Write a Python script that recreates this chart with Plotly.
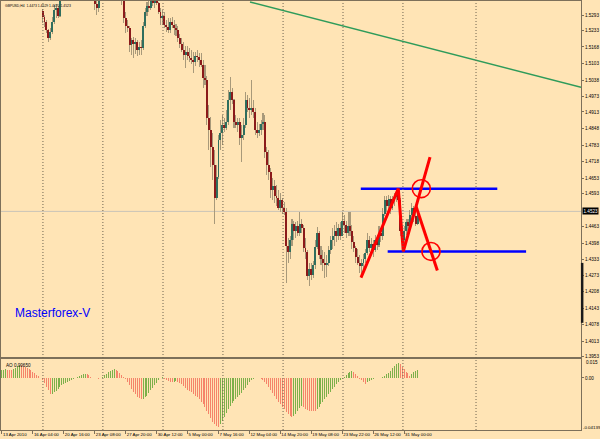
import plotly.graph_objects as go

# ---------------- data (GBPUSD H4) ----------------
opens = [
    1.5400, 1.5415, 1.5432, 1.5428, 1.5410, 1.5405, 1.5400, 1.5440, 1.5470, 1.5500,
    1.5490, 1.5470, 1.5450, 1.5430, 1.5415, 1.5395, 1.5380, 1.5390, 1.5385, 1.5378,
    1.5372, 1.5309, 1.5285, 1.5266, 1.5234, 1.5203, 1.5226, 1.5266, 1.5313, 1.5321,
    1.5289, 1.5350, 1.5385, 1.5395, 1.5410, 1.5400, 1.5392, 1.5402, 1.5425, 1.5438,
    1.5420, 1.5410, 1.5418, 1.5400, 1.5388, 1.5375, 1.5370, 1.5365, 1.5360, 1.5336,
    1.5321, 1.5355, 1.5372, 1.5395, 1.5425, 1.5450, 1.5475, 1.5490, 1.5480, 1.5465,
    1.5450, 1.5430, 1.5405, 1.5360, 1.5281, 1.5250, 1.5242, 1.5175, 1.5195, 1.5179,
    1.5187, 1.5156, 1.5167, 1.5163, 1.5250, 1.5305, 1.5328, 1.5321, 1.5352, 1.5340,
    1.5360, 1.5340, 1.5305, 1.5281, 1.5289, 1.5254, 1.5246, 1.5234, 1.5266, 1.5254,
    1.5242, 1.5234, 1.5203, 1.5179, 1.5156, 1.5136, 1.5148, 1.5132, 1.5124, 1.5116,
    1.5108, 1.5132, 1.5128, 1.5116, 1.5097, 1.5045, 1.5038, 1.4888, 1.4841, 1.4774,
    1.4704, 1.4574, 1.4656, 1.4802, 1.4829, 1.4861, 1.4849, 1.4872, 1.4959, 1.4990,
    1.4959, 1.4872, 1.4861, 1.4872, 1.4810, 1.4821, 1.4861, 1.4959, 1.4928, 1.4920,
    1.4928, 1.4912, 1.4841, 1.4829, 1.4841, 1.4865, 1.4872, 1.4755, 1.4704, 1.4676,
    1.4605, 1.4621, 1.4582, 1.4574, 1.4535, 1.4566, 1.4535, 1.4519, 1.4389, 1.4362,
    1.4409, 1.4472, 1.4448, 1.4464, 1.4440, 1.4472, 1.4456, 1.4378, 1.4362, 1.4271,
    1.4299, 1.4275, 1.4311, 1.4385, 1.4440, 1.4350, 1.4338, 1.4322, 1.4311, 1.4322,
    1.4370, 1.4409, 1.4428, 1.4448, 1.4425, 1.4456, 1.4428, 1.4487, 1.4468, 1.4440,
    1.4464, 1.4448, 1.4401, 1.4378, 1.4346, 1.4322, 1.4307, 1.4322, 1.4338, 1.4358,
    1.4409, 1.4378, 1.4397, 1.4370, 1.4409, 1.4393, 1.4440, 1.4425, 1.4511, 1.4566,
    1.4543, 1.4570, 1.4535, 1.4566, 1.4578, 1.4590, 1.4566, 1.4448, 1.4409, 1.4448,
    1.4480, 1.4464, 1.4507, 1.4535, 1.4503, 1.4473,
]
highs = [
    1.5425, 1.5440, 1.5450, 1.5435, 1.5422, 1.5418, 1.5445, 1.5480, 1.5510, 1.5520,
    1.5500, 1.5478, 1.5460, 1.5445, 1.5430, 1.5410, 1.5400, 1.5405, 1.5398, 1.5392,
    1.5385, 1.5317, 1.5293, 1.5275, 1.5240, 1.5242, 1.5285, 1.5332, 1.5336, 1.5328,
    1.5360, 1.5392, 1.5400, 1.5420, 1.5425, 1.5415, 1.5410, 1.5430, 1.5445, 1.5450,
    1.5432, 1.5425, 1.5430, 1.5412, 1.5398, 1.5385, 1.5380, 1.5378, 1.5380, 1.5352,
    1.5365, 1.5380, 1.5400, 1.5430, 1.5460, 1.5485, 1.5500, 1.5510, 1.5495, 1.5475,
    1.5460, 1.5440, 1.5415, 1.5365, 1.5305, 1.5273, 1.5250, 1.5203, 1.5205, 1.5203,
    1.5195, 1.5187, 1.5195, 1.5266, 1.5321, 1.5344, 1.5350, 1.5365, 1.5375, 1.5370,
    1.5375, 1.5345, 1.5321, 1.5313, 1.5305, 1.5273, 1.5281, 1.5281, 1.5285, 1.5273,
    1.5258, 1.5250, 1.5218, 1.5203, 1.5187, 1.5171, 1.5171, 1.5163, 1.5156, 1.5148,
    1.5148, 1.5156, 1.5144, 1.5144, 1.5116, 1.5097, 1.5053, 1.4939, 1.4892, 1.4829,
    1.4762, 1.4704, 1.4821, 1.4880, 1.4900, 1.4888, 1.4920, 1.4998, 1.5049, 1.5006,
    1.4962, 1.4900, 1.4888, 1.4888, 1.4861, 1.4888, 1.4990, 1.4979, 1.4967, 1.5038,
    1.4959, 1.4928, 1.4872, 1.4865, 1.4880, 1.4908, 1.4900, 1.4774, 1.4762, 1.4692,
    1.4653, 1.4645, 1.4625, 1.4605, 1.4597, 1.4574, 1.4558, 1.4535, 1.4417, 1.4428,
    1.4495, 1.4487, 1.4480, 1.4487, 1.4519, 1.4495, 1.4468, 1.4417, 1.4370, 1.4322,
    1.4322, 1.4330, 1.4409, 1.4460, 1.4448, 1.4389, 1.4370, 1.4362, 1.4350, 1.4389,
    1.4428, 1.4456, 1.4468, 1.4480, 1.4472, 1.4480, 1.4519, 1.4507, 1.4487, 1.4519,
    1.4519, 1.4468, 1.4428, 1.4389, 1.4377, 1.4350, 1.4338, 1.4354, 1.4377, 1.4440,
    1.4425, 1.4417, 1.4409, 1.4432, 1.4425, 1.4464, 1.4456, 1.4535, 1.4582, 1.4582,
    1.4586, 1.4582, 1.4582, 1.4597, 1.4605, 1.4613, 1.4574, 1.4464, 1.4464, 1.4495,
    1.4495, 1.4527, 1.4554, 1.4546, 1.4527, 1.4529,
]
lows = [
    1.5388, 1.5405, 1.5420, 1.5400, 1.5395, 1.5392, 1.5398, 1.5435, 1.5462, 1.5480,
    1.5460, 1.5440, 1.5420, 1.5400, 1.5385, 1.5372, 1.5368, 1.5375, 1.5368, 1.5365,
    1.5360, 1.5262, 1.5246, 1.5222, 1.5187, 1.5195, 1.5218, 1.5258, 1.5281, 1.5281,
    1.5285, 1.5348, 1.5370, 1.5385, 1.5390, 1.5380, 1.5378, 1.5395, 1.5410, 1.5415,
    1.5400, 1.5395, 1.5392, 1.5380, 1.5368, 1.5360, 1.5356, 1.5352, 1.5313, 1.5293,
    1.5305, 1.5348, 1.5365, 1.5388, 1.5418, 1.5440, 1.5460, 1.5470, 1.5455, 1.5440,
    1.5420, 1.5395, 1.5332, 1.5262, 1.5222, 1.5226, 1.5148, 1.5136, 1.5124, 1.5140,
    1.5132, 1.5136, 1.5136, 1.5156, 1.5242, 1.5289, 1.5305, 1.5313, 1.5328, 1.5321,
    1.5332, 1.5297, 1.5254, 1.5254, 1.5242, 1.5226, 1.5222, 1.5222, 1.5242, 1.5214,
    1.5211, 1.5187, 1.5163, 1.5148, 1.5116, 1.5085, 1.5116, 1.5108, 1.5100, 1.5065,
    1.5093, 1.5108, 1.5089, 1.5089, 1.5006, 1.5018, 1.4861, 1.4762, 1.4696, 1.4645,
    1.4472, 1.4566, 1.4650, 1.4762, 1.4782, 1.4833, 1.4841, 1.4861, 1.4920, 1.4943,
    1.4849, 1.4849, 1.4833, 1.4782, 1.4715, 1.4802, 1.4849, 1.4912, 1.4888, 1.4900,
    1.4888, 1.4821, 1.4810, 1.4817, 1.4821, 1.4841, 1.4731, 1.4664, 1.4645, 1.4574,
    1.4566, 1.4554, 1.4546, 1.4527, 1.4519, 1.4511, 1.4507, 1.4244, 1.4322, 1.4338,
    1.4389, 1.4409, 1.4417, 1.4428, 1.4425, 1.4440, 1.4362, 1.4338, 1.4252, 1.4232,
    1.4252, 1.4260, 1.4299, 1.4377, 1.4338, 1.4311, 1.4291, 1.4260, 1.4267, 1.4307,
    1.4354, 1.4377, 1.4389, 1.4401, 1.4409, 1.4409, 1.4425, 1.4440, 1.4417, 1.4425,
    1.4428, 1.4377, 1.4362, 1.4322, 1.4311, 1.4283, 1.4263, 1.4299, 1.4322, 1.4350,
    1.4362, 1.4350, 1.4346, 1.4362, 1.4370, 1.4385, 1.4401, 1.4409, 1.4503, 1.4519,
    1.4527, 1.4511, 1.4527, 1.4546, 1.4558, 1.4550, 1.4425, 1.4370, 1.4393, 1.4432,
    1.4440, 1.4448, 1.4495, 1.4480, 1.4464, 1.4470,
]
closes = [
    1.5415, 1.5432, 1.5428, 1.5410, 1.5405, 1.5400, 1.5440, 1.5470, 1.5500, 1.5490,
    1.5470, 1.5450, 1.5430, 1.5415, 1.5395, 1.5380, 1.5390, 1.5385, 1.5378, 1.5372,
    1.5370, 1.5285, 1.5266, 1.5234, 1.5203, 1.5226, 1.5266, 1.5313, 1.5321, 1.5289,
    1.5350, 1.5385, 1.5395, 1.5410, 1.5400, 1.5392, 1.5402, 1.5425, 1.5438, 1.5420,
    1.5410, 1.5418, 1.5400, 1.5388, 1.5375, 1.5370, 1.5365, 1.5360, 1.5336, 1.5321,
    1.5355, 1.5372, 1.5395, 1.5425, 1.5450, 1.5475, 1.5490, 1.5480, 1.5465, 1.5450,
    1.5430, 1.5405, 1.5360, 1.5281, 1.5250, 1.5242, 1.5175, 1.5195, 1.5179, 1.5187,
    1.5156, 1.5167, 1.5163, 1.5250, 1.5305, 1.5328, 1.5321, 1.5352, 1.5340, 1.5360,
    1.5340, 1.5305, 1.5281, 1.5289, 1.5254, 1.5246, 1.5234, 1.5266, 1.5254, 1.5242,
    1.5234, 1.5203, 1.5179, 1.5156, 1.5136, 1.5148, 1.5132, 1.5124, 1.5116, 1.5108,
    1.5132, 1.5128, 1.5116, 1.5097, 1.5045, 1.5038, 1.4888, 1.4841, 1.4774, 1.4704,
    1.4574, 1.4656, 1.4802, 1.4829, 1.4861, 1.4849, 1.4872, 1.4959, 1.4990, 1.4959,
    1.4872, 1.4861, 1.4872, 1.4810, 1.4821, 1.4861, 1.4959, 1.4928, 1.4920, 1.4928,
    1.4912, 1.4841, 1.4829, 1.4841, 1.4865, 1.4872, 1.4755, 1.4704, 1.4676, 1.4605,
    1.4621, 1.4582, 1.4574, 1.4535, 1.4566, 1.4535, 1.4519, 1.4389, 1.4362, 1.4409,
    1.4472, 1.4448, 1.4464, 1.4440, 1.4472, 1.4456, 1.4378, 1.4362, 1.4271, 1.4299,
    1.4275, 1.4311, 1.4385, 1.4440, 1.4350, 1.4338, 1.4322, 1.4311, 1.4322, 1.4370,
    1.4409, 1.4428, 1.4448, 1.4425, 1.4456, 1.4428, 1.4487, 1.4468, 1.4440, 1.4464,
    1.4448, 1.4401, 1.4378, 1.4346, 1.4322, 1.4307, 1.4322, 1.4338, 1.4358, 1.4409,
    1.4378, 1.4397, 1.4370, 1.4409, 1.4393, 1.4440, 1.4425, 1.4511, 1.4566, 1.4543,
    1.4570, 1.4535, 1.4566, 1.4578, 1.4590, 1.4566, 1.4448, 1.4409, 1.4448, 1.4480,
    1.4464, 1.4507, 1.4535, 1.4503, 1.4473, 1.4523,
]
# Awesome Oscillator values
ao = [
    0.0062, 0.0066, 0.0068, 0.0066, 0.0064, 0.0062, 0.0070, 0.0080, 0.0095, 0.0105,
    0.0102, 0.0098, 0.0090, 0.0080, 0.0070, 0.0060, 0.0048, 0.0036, 0.0024, 0.0012,
    0.0003, -0.0015, -0.0040, -0.0070, -0.0100, -0.0130, -0.0125, -0.0115, -0.0105, -0.0090,
    -0.0075, -0.0060, -0.0048, -0.0038, -0.0030, -0.0022, -0.0015, -0.0008, -0.0003, 0.0005,
    0.0012, 0.0020, 0.0028, 0.0033, 0.0028, 0.0020, 0.0010, 0.0002, 0.0000, -0.0003,
    -0.0005, -0.0002, 0.0008, 0.0020, 0.0033, 0.0045, 0.0055, 0.0063, 0.0068, 0.0065,
    0.0052, 0.0038, 0.0023, 0.0008, -0.0010, -0.0035, -0.0060, -0.0085, -0.0110, -0.0130,
    -0.0150, -0.0163, -0.0170, -0.0165, -0.0155, -0.0140, -0.0120, -0.0100, -0.0080, -0.0060,
    -0.0040, -0.0015, 0.0003, 0.0005, -0.0005, -0.0015, -0.0025, -0.0030, -0.0033, -0.0030,
    -0.0028, -0.0032, -0.0038, -0.0050, -0.0065, -0.0080, -0.0094, -0.0105, -0.0115, -0.0128,
    -0.0140, -0.0155, -0.0170, -0.0190, -0.0210, -0.0235, -0.0260, -0.0290, -0.0320, -0.0350,
    -0.0370, -0.0383, -0.0390, -0.0370, -0.0340, -0.0310, -0.0280, -0.0250, -0.0220, -0.0200,
    -0.0185, -0.0170, -0.0150, -0.0135, -0.0120, -0.0100, -0.0080, -0.0055, -0.0030, -0.0015,
    -0.0005, 0.0002, 0.0003, -0.0003, -0.0010, -0.0020, -0.0030, -0.0045, -0.0070, -0.0095,
    -0.0120, -0.0145, -0.0170, -0.0190, -0.0210, -0.0230, -0.0250, -0.0270, -0.0285, -0.0300,
    -0.0310, -0.0300, -0.0285, -0.0265, -0.0240, -0.0225, -0.0235, -0.0245, -0.0255, -0.0260,
    -0.0263, -0.0265, -0.0266, -0.0250, -0.0230, -0.0210, -0.0190, -0.0170, -0.0150, -0.0130,
    -0.0110, -0.0090, -0.0070, -0.0050, -0.0035, -0.0020, -0.0008, 0.0010, 0.0025, 0.0040,
    0.0050, 0.0058, 0.0045, 0.0030, 0.0015, -0.0005, -0.0020, -0.0035, -0.0045, -0.0035,
    -0.0025, -0.0015, -0.0005, -0.0001, -0.0002, 0.0001, 0.0003, 0.0008, 0.0018, 0.0028,
    0.0040, 0.0055, 0.0075, 0.0095, 0.0110, 0.0120, 0.0110, 0.0090, 0.0070, 0.0050,
    0.0035, 0.0018, 0.0030, 0.0045, 0.0055, 0.0065,
]

time_ticks = [0, 16, 32, 48, 64, 80, 96, 112, 128, 144, 160, 176, 192, 208]
time_labels = ["13 Apr 2010", "16 Apr 04:00", "20 Apr 16:00", "23 Apr 08:00",
               "27 Apr 20:00", "30 Apr 12:00", "5 May 00:00", "7 May 16:00",
               "12 May 04:00", "14 May 20:00", "19 May 08:00", "23 May 22:00",
               "26 May 12:00", "31 May 00:00"]
price_ticks = [1.5293, 1.5233, 1.5168, 1.5103, 1.5038, 1.4973, 1.4913, 1.4848,
               1.4783, 1.4718, 1.4653, 1.4593, 1.4463, 1.4398, 1.4333, 1.4273,
               1.4208, 1.4143, 1.4078, 1.4013, 1.3953]
last_price = 1.4523
week_separators = [21.2, 52.2, 83.3, 114.3, 145.4, 176.4, 207.4, 245.2]

trend_x = [128.3, 299.5]
trend_y = [1.5344, 1.5010]
zigzag_x = [185.7, 205.0, 207.6, 221.4]
zigzag_y = [1.4263, 1.4612, 1.4366, 1.4736]
drop_x = [214.2, 225.2]
drop_y = [1.4542, 1.4291]
level_hi_x = [185.6, 256.2]
level_hi_y = [1.4612, 1.4612]
level_lo_x = [199.5, 271.1]
level_lo_y = [1.4366, 1.4366]
circle_x = [216.9, 221.9]
circle_y = [1.4612, 1.4366]

# ---------------- styling ----------------
BG = "#FFE4B5"
FRAME = "#7d705a"
WICK = "#a8997a"
BULL = "#2f6e5e"
BEAR = "#8b1a1a"
FONT = "Liberation Sans"

n = len(closes)
idx = list(range(n))
body_base = [min(o, c) for o, c in zip(opens, closes)]
body_h = [abs(c - o) for o, c in zip(opens, closes)]
body_col = [BULL if c >= o else BEAR for o, c in zip(opens, closes)]
wick_h = [h - l for h, l in zip(highs, lows)]

ao_col = []
for k, v in enumerate(ao):
    up = k == 0 or v >= ao[k - 1]
    ao_col.append("#7cb04a" if up else "#f5836a")

fig = go.Figure()
fig.add_trace(go.Bar(x=idx, y=wick_h, base=lows, width=0.55,
                     marker=dict(color=WICK, line=dict(width=0)),
                     xaxis="x", yaxis="y"))
fig.add_trace(go.Bar(x=idx, y=body_h, base=body_base, width=1.0,
                     marker=dict(color=body_col, line=dict(width=0)),
                     xaxis="x", yaxis="y"))
fig.add_trace(go.Bar(x=list(range(len(ao))), y=ao, width=0.5,
                     marker=dict(color=ao_col, line=dict(width=0)),
                     xaxis="x2", yaxis="y2"))

fig.add_trace(go.Scatter(x=trend_x, y=trend_y, mode="lines",
                         line=dict(color="#2e9b5a", width=1.5), xaxis="x", yaxis="y"))
fig.add_trace(go.Scatter(x=level_hi_x, y=level_hi_y, mode="lines",
                         line=dict(color="#0000ff", width=2.5), xaxis="x", yaxis="y"))
fig.add_trace(go.Scatter(x=level_lo_x, y=level_lo_y, mode="lines",
                         line=dict(color="#0000ff", width=2.5), xaxis="x", yaxis="y"))
fig.add_trace(go.Scatter(x=zigzag_x, y=zigzag_y, mode="lines",
                         line=dict(color="#ff0000", width=3), xaxis="x", yaxis="y"))
fig.add_trace(go.Scatter(x=drop_x, y=drop_y, mode="lines",
                         line=dict(color="#ff0000", width=3), xaxis="x", yaxis="y"))

shapes = []
for s in week_separators:
    shapes.append(dict(type="line", xref="x", yref="paper", x0=s, x1=s, y0=0, y1=1,
                       line=dict(color="#6e6450", width=1, dash="1px,2px"), layer="above"))
shapes.append(dict(type="line", xref="x domain", yref="y", x0=0, x1=1,
                   y0=last_price, y1=last_price,
                   line=dict(color="#c9c3b8", width=1), layer="below"))
rx = 4.66
ry = 0.0035
for cx, cy in zip(circle_x, circle_y):
    shapes.append(dict(type="circle", xref="x", yref="y", x0=cx - rx, x1=cx + rx,
                       y0=cy - ry, y1=cy + ry, line=dict(color="#ff0000", width=1.6)))
shapes.append(dict(type="line", xref="x domain", yref="y", x0=1.002, x1=1.002,
                   y0=1.4321, y1=1.4086, line=dict(color="#1a1a1a", width=2.5)))

annotations = [
    dict(xref="x domain", yref="y domain", x=0, y=1, xanchor="left", yanchor="top",
         xshift=2, yshift=-1, showarrow=False,
         text="GBPUSD,H4  1.4473 1.4529 1.4470 1.4523",
         font=dict(family=FONT, size=3.4, color="black")),
    dict(xref="x domain", yref="y domain", x=0.0207, y=0.1236, xanchor="left",
         yanchor="middle", showarrow=False, text="Masterforex-V",
         font=dict(family=FONT, size=12, color="#0000ff")),
    dict(xref="x domain", yref="y", x=1, y=last_price, xanchor="left", yanchor="middle",
         xshift=1, showarrow=False, text=f"{last_price:.4f}", bgcolor="black",
         borderpad=0.5, font=dict(family=FONT, size=4.6, color="white")),
    dict(xref="x2 domain", yref="y2 domain", x=0, y=1, xanchor="left", yanchor="top",
         xshift=3, yshift=-2, showarrow=False, text="AO 0.00650",
         font=dict(family=FONT, size=4.6, color="black")),
    dict(xref="x2 domain", yref="y2", x=1, y=0.015, xanchor="left", yanchor="middle",
         xshift=3, yshift=-3, showarrow=False, text="0.015",
         font=dict(family=FONT, size=4.6, color="black")),
    dict(xref="x2 domain", yref="y2", x=1, y=-0.04139, xanchor="left", yanchor="middle",
         xshift=0, yshift=3, showarrow=False, text="-0.04139",
         font=dict(family=FONT, size=4.4, color="black")),
]

fig.update_layout(
    width=600, height=439,
    margin=dict(l=1, r=19, t=1, b=9, autoexpand=False),
    paper_bgcolor=BG, plot_bgcolor=BG,
    showlegend=False, hovermode=False, barmode="overlay", bargap=0,
    shapes=shapes, annotations=annotations,
    xaxis=dict(domain=[0, 1], range=[-0.5, 299.5], anchor="y", automargin=False,
               showticklabels=False, ticks="", showgrid=False, zeroline=False,
               showline=True, mirror=True, linecolor=FRAME, linewidth=1),
    yaxis=dict(domain=[0.1702, 1], range=[1.3952, 1.5348], side="right", automargin=False,
               tickvals=price_ticks, ticktext=[f"{p:.4f}" for p in price_ticks],
               ticks="outside", ticklen=2, tickcolor=FRAME,
               tickfont=dict(family=FONT, size=4.6, color="black"),
               showgrid=False, zeroline=False,
               showline=True, mirror=True, linecolor=FRAME, linewidth=1),
    xaxis2=dict(domain=[0, 1], range=[-0.5, 299.5], anchor="y2", matches="x",
                automargin=False, tickangle=0,
                tickvals=time_ticks, ticktext=time_labels,
                ticklabelposition="outside right",
                ticks="outside", ticklen=3, tickcolor=FRAME,
                tickfont=dict(family=FONT, size=4.4, color="black"),
                showgrid=False, zeroline=False,
                showline=True, mirror=True, linecolor=FRAME, linewidth=1),
    yaxis2=dict(domain=[0, 0.1655], range=[-0.04139, 0.015], side="right",
                automargin=False,
                tickvals=[0.0], ticktext=["0.00"],
                ticks="outside", ticklen=2, tickcolor=FRAME,
                tickfont=dict(family=FONT, size=4.6, color="black"),
                showgrid=False, zeroline=False,
                showline=True, mirror=True, linecolor=FRAME, linewidth=1),
)

fig.write_html("out.html", config={"displayModeBar": False, "staticPlot": True},
               post_script="document.body.style.margin='0px';"
                           "document.body.style.overflow='hidden';")
